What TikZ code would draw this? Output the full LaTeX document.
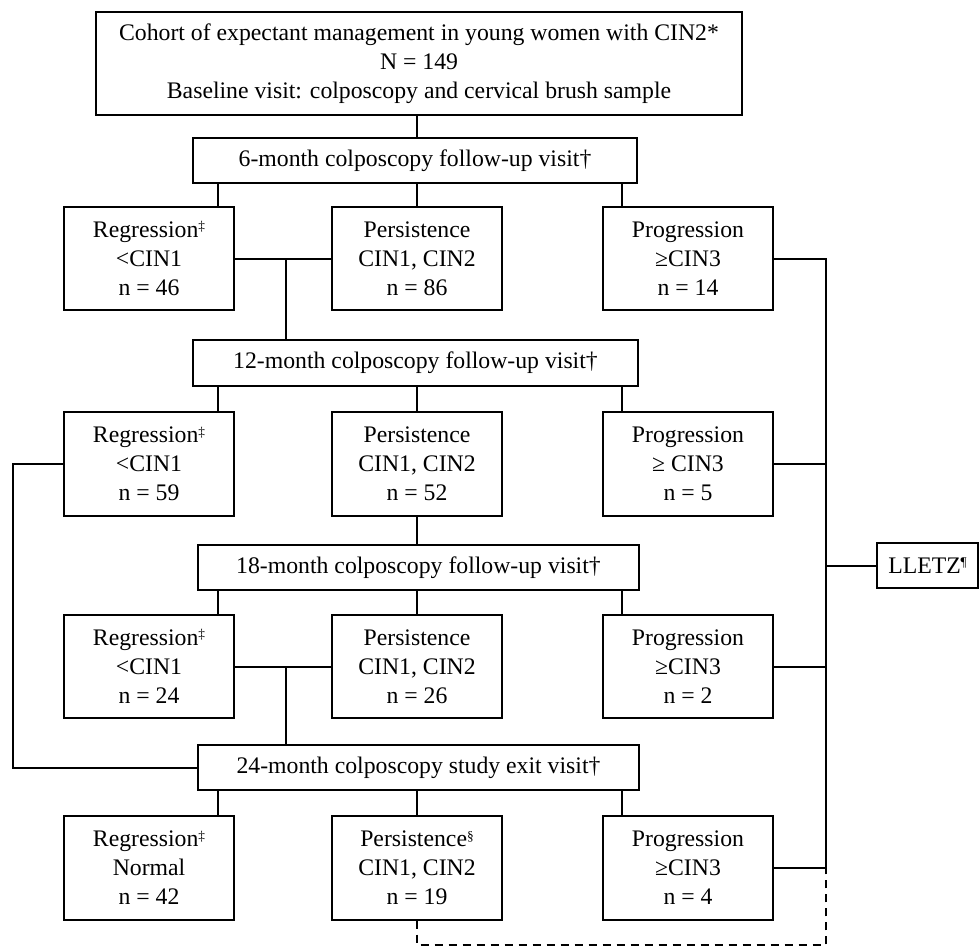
\documentclass[tikz,border=0pt]{standalone}
\usepackage{fontspec}
\setmainfont{Liberation Serif}
\newcommand\mysup[1]{\raisebox{0.6ex}{\fontsize{10}{10}\selectfont #1}}
\begin{document}
\begin{tikzpicture}[x=0.75pt,y=-0.75pt,line width=1.5pt,
  box/.style={draw,rectangle,inner sep=0pt,align=center,font=\fontsize{17.8}{21.8}\selectfont},
  res/.style={box,minimum width=127.5pt,minimum height=77.5pt},
  visit/.style={box,minimum height=33.75pt},
  dashline/.style={dash pattern=on 6.5pt off 4pt}]
\useasboundingbox (0,0) rectangle (980,947);

\node[box,minimum width=484.5pt,minimum height=77.25pt] (top) at (419,63.5)
  {Cohort of expectant management in young women with CIN2*\\ N = 149\\ Baseline visit: colposcopy and cervical brush sample};

\node[visit,minimum width=333pt] (v6) at (415,160.5) {6-month colposcopy follow-up visit†};
\node[visit,minimum width=333.75pt,minimum height=34.5pt] (v12) at (415.5,363) {12-month colposcopy follow-up visit†};
\node[visit,minimum width=330.75pt] (v18) at (418.5,567.5) {18-month colposcopy follow-up visit†};
\node[visit,minimum width=330.75pt] (v24) at (418.5,767.5) {24-month colposcopy study exit visit†};

\node[res] (r1) at (149,258.5) {Regression\mysup{‡}\\ <CIN1\\ n = 46};
\node[res] (p1) at (417,258.5) {Persistence\\ CIN1, CIN2\\ n = 86};
\node[res] (q1) at (688,258.5) {Progression\\ ≥CIN3\\ n = 14};

\node[res] (r2) at (149,464) {Regression\mysup{‡}\\ <CIN1\\ n = 59};
\node[res] (p2) at (417,464) {Persistence\\ CIN1, CIN2\\ n = 52};
\node[res] (q2) at (688,464) {Progression\\ ≥ CIN3\\ n = 5};

\node[res] (r3) at (149,666.5) {Regression\mysup{‡}\\ <CIN1\\ n = 24};
\node[res] (p3) at (417,666.5) {Persistence\\ CIN1, CIN2\\ n = 26};
\node[res] (q3) at (688,666.5) {Progression\\ ≥CIN3\\ n = 2};

\node[res] (r4) at (149,868) {Regression\mysup{‡}\\ Normal\\ n = 42};
\node[res] (p4) at (417,868) {Persistence\mysup{§}\\ CIN1, CIN2\\ n = 19};
\node[res] (q4) at (688,868) {Progression\\ ≥CIN3\\ n = 4};

\node[box,minimum width=76pt,minimum height=33.75pt] (lletz) at (927.5,565.5) {LLETZ\mysup{¶}};

\coordinate (XL) at (218,0);
\coordinate (XR) at (622,0);
\coordinate (XJ) at (286,0);
\coordinate (XS) at (826,0);
\coordinate (XW) at (13,0);
\coordinate (YB) at (0,945);

% top to 6-month
\draw (top.south -| p1) -- (v6.north -| p1);
% 6-month stubs
\draw (v6.south -| XL) -- (r1.north -| XL);
\draw (v6.south -| p1) -- (p1.north);
\draw (v6.south -| XR) -- (q1.north -| XR);
% row1 to 12-month
\draw (r1.east) -- (p1.west);
\draw (r1.east -| XJ) -- (v12.north -| XJ);
% 12-month stubs
\draw (v12.south -| XL) -- (r2.north -| XL);
\draw (v12.south -| p2) -- (p2.north);
\draw (v12.south -| XR) -- (q2.north -| XR);
% row2
\draw (p2.south) -- (v18.north -| p2);
\draw (r2.west) -- (r2.west -| XW) -- (v24.west -| XW) -- (v24.west);
% 18-month stubs
\draw (v18.south -| XL) -- (r3.north -| XL);
\draw (v18.south -| p3) -- (p3.north);
\draw (v18.south -| XR) -- (q3.north -| XR);
% row3 to 24-month
\draw (r3.east) -- (p3.west);
\draw (r3.east -| XJ) -- (v24.north -| XJ);
% 24-month stubs
\draw (v24.south -| XL) -- (r4.north -| XL);
\draw (v24.south -| p4) -- (p4.north);
\draw (v24.south -| XR) -- (q4.north -| XR);
% progression spine
\draw (q1.east) -- (q1.east -| XS) -- (q4.east -| XS);
\draw (q2.east) -- (q2.east -| XS);
\draw (q3.east) -- (q3.east -| XS);
\draw (q4.east) -- (q4.east -| XS);
\draw (lletz.west -| XS) -- (lletz.west);
% dashed return
\draw[dashline] (p4.south) -- (p4.south |- YB) -- (YB -| XS) -- (q4.east -| XS);
\end{tikzpicture}
\end{document}
